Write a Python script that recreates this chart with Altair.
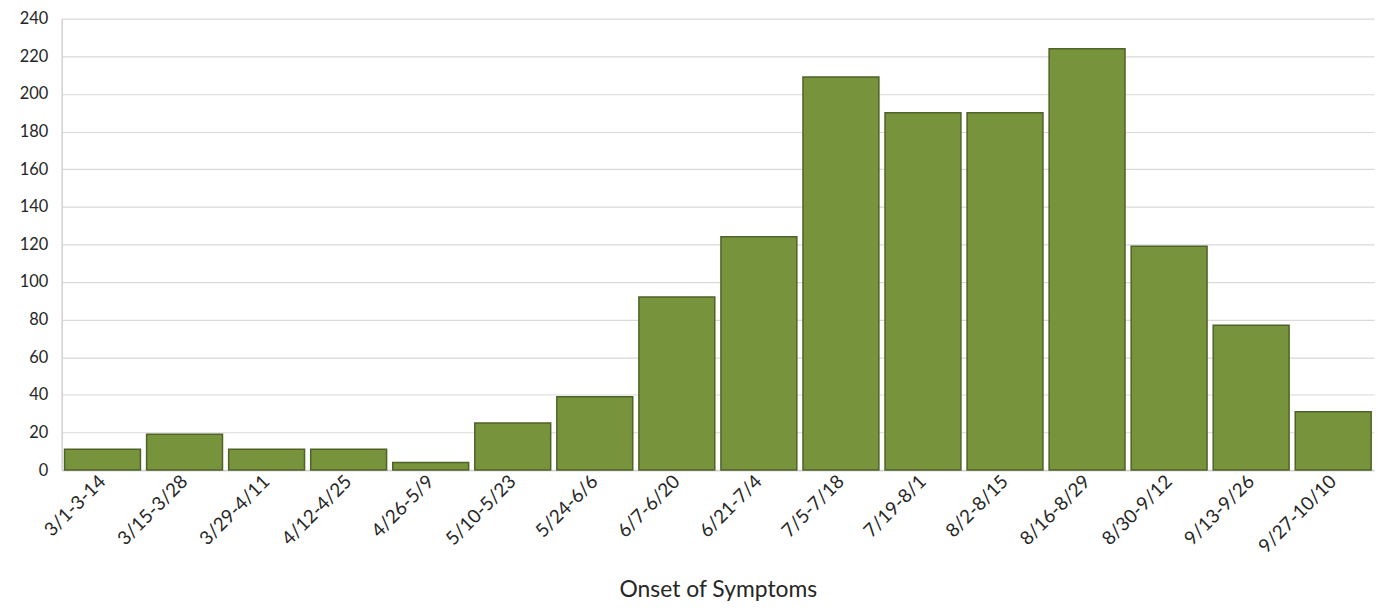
import altair as alt
import pandas as pd

categories = ["3/1-3-14", "3/15-3/28", "3/29-4/11", "4/12-4/25", "4/26-5/9", "5/10-5/23",
              "5/24-6/6", "6/7-6/20", "6/21-7/4", "7/5-7/18", "7/19-8/1", "8/2-8/15",
              "8/16-8/29", "8/30-9/12", "9/13-9/26", "9/27-10/10"]
cases = [11, 19, 11, 11, 4, 25, 39, 92, 124, 209, 190, 190, 224, 119, 77, 31]

df = pd.DataFrame({"period": categories, "cases": cases})

FONT = "Lato"

chart = alt.Chart(df).mark_bar(
    color="#77933C", stroke="#4F6228", strokeWidth=1.5
).encode(
    x=alt.X("period:N", sort=categories,
            scale=alt.Scale(paddingInner=0.075, paddingOuter=0.035),
            axis=alt.Axis(title="Onset of Symptoms", labelAngle=-45, labelAlign="right",
                          labelBaseline="middle", labelFontSize=19, labelColor="#262626",
                          labelFont=FONT, labelPadding=8, ticks=False,
                          domainColor="#d0d0d0", domainWidth=1.5,
                          titleFont=FONT, titleFontSize=23, titleFontWeight="normal",
                          titleColor="#262626", titlePadding=22)),
    y=alt.Y("cases:Q", scale=alt.Scale(domain=[0, 240], nice=False),
            axis=alt.Axis(title=None, values=list(range(0, 241, 20)), labelFontSize=16.5,
                          labelFont=FONT, labelColor="#262626", labelPadding=14,
                          ticks=False, domainColor="#d0d0d0", domainWidth=1.5,
                          gridColor="#d9d9d9", gridWidth=1.2)),
).properties(
    width=1320, height=454,
    autosize=alt.AutoSizeParams(type="none"),
    padding={"left": 54, "top": 9, "right": 3, "bottom": 137},
).configure_view(stroke=None)

chart.save("out.html", embed_options={"renderer": "svg", "actions": False})
